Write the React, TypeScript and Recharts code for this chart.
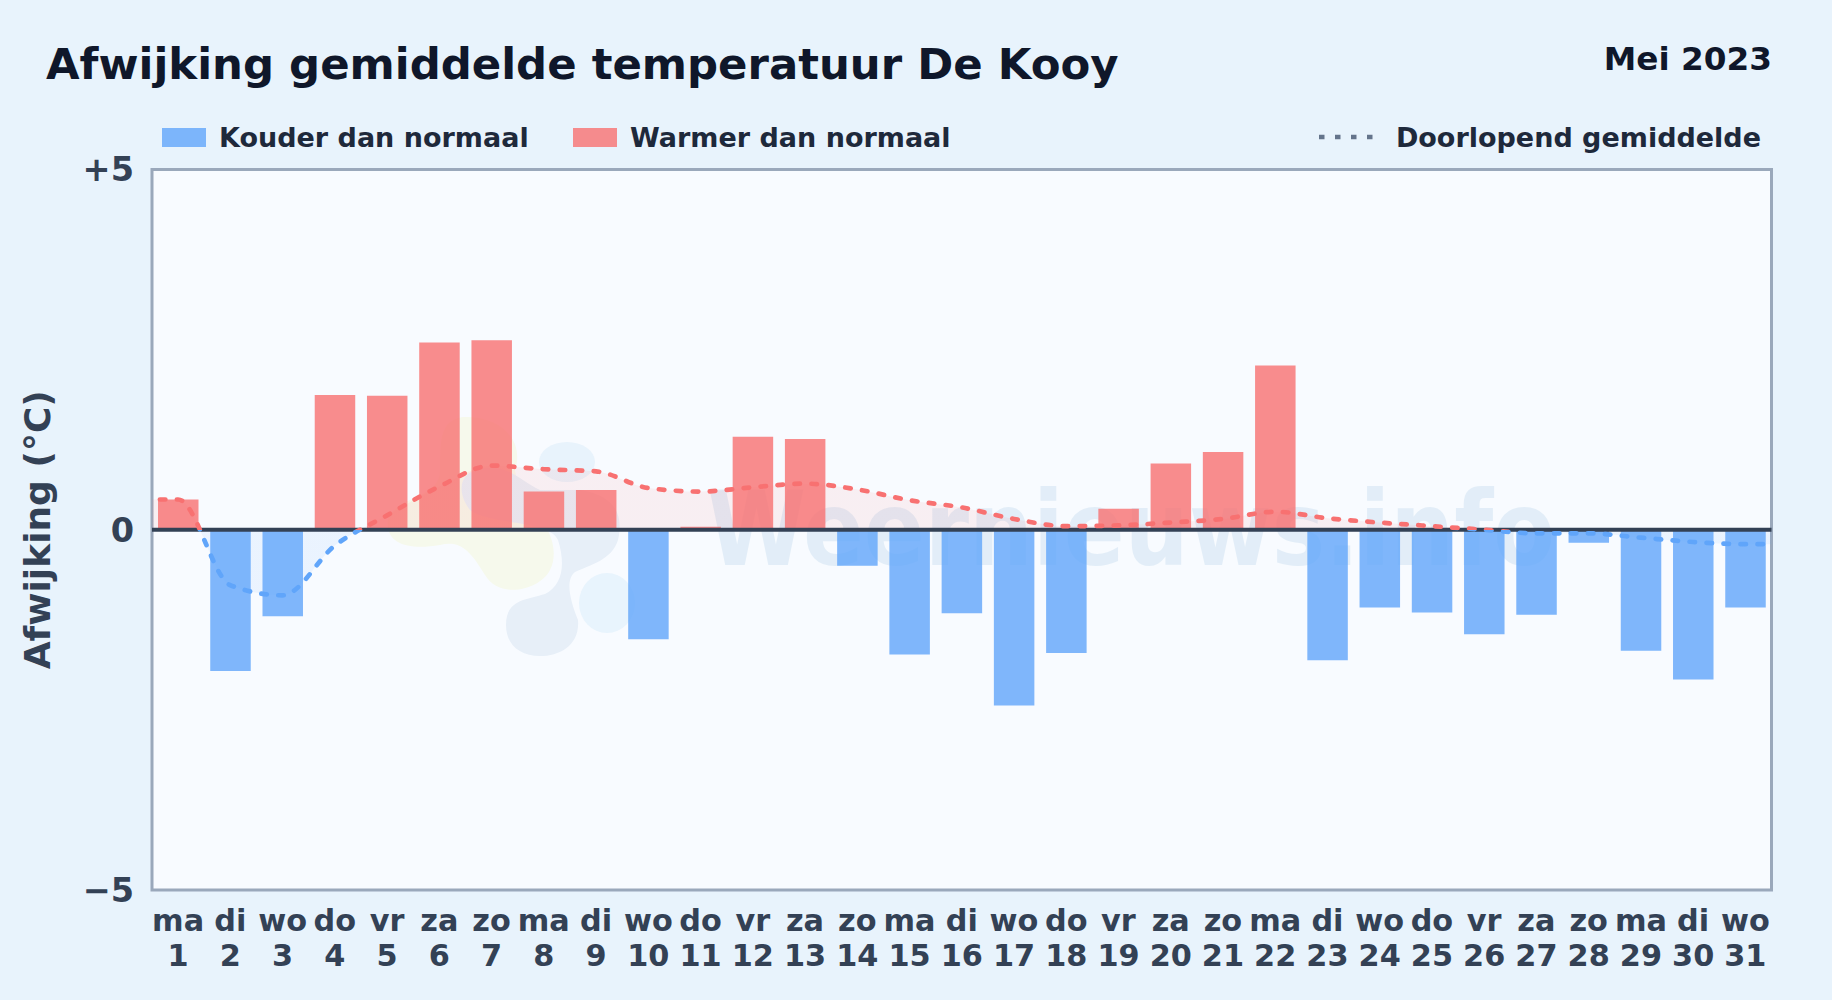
import React from 'react';
import {
  Area,
  Bar,
  Cell,
  ComposedChart,
  Line,
  ReferenceArea,
  ReferenceLine,
  XAxis,
  YAxis,
} from 'recharts';

const days = [1, 2, 3, 4, 5, 6, 7, 8, 9, 10, 11, 12, 13, 14, 15, 16, 17, 18, 19, 20, 21, 22, 23, 24, 25, 26, 27, 28, 29, 30, 31];
const weekdays = ['ma', 'di', 'wo', 'do', 'vr', 'za', 'zo', 'ma', 'di', 'wo', 'do', 'vr', 'za', 'zo', 'ma', 'di', 'wo', 'do', 'vr', 'za', 'zo', 'ma', 'di', 'wo', 'do', 'vr', 'za', 'zo', 'ma', 'di', 'wo'];
const deviation = [0.42, -1.96, -1.2, 1.87, 1.86, 2.6, 2.63, 0.53, 0.55, -1.52, 0.04, 1.29, 1.26, -0.5, -1.73, -1.16, -2.44, -1.71, 0.29, 0.92, 1.08, 2.28, -1.81, -1.08, -1.15, -1.45, -1.18, -0.18, -1.68, -2.08, -1.08];
const runningMean = [0.42, -0.77, -0.91, -0.22, 0.2, 0.6, 0.89, 0.84, 0.81, 0.58, 0.53, 0.59, 0.64, 0.56, 0.41, 0.31, 0.15, 0.05, 0.06, 0.1, 0.15, 0.25, 0.16, 0.1, 0.05, 0, -0.05, -0.05, -0.11, -0.17, -0.2];
const yTicks = [-5, 0, 5];

const FONT = '"DejaVu Sans", sans-serif';
const TEXT = '#334155';
const COLD = '#60a5fa';
const WARM = '#f87171';

// the running mean runs on to both plot edges, the extra rows fall outside the domain and get clipped
const data = [
  { x: 0, mean: runningMean[0] },
  ...days.map((d, i) => ({ x: d, value: deviation[i], mean: runningMean[i] })),
  { x: 32, mean: runningMean[30] },
];

const formatY = (v: number) => (v > 0 ? `+${v}` : v < 0 ? `\u2212${-v}` : '0');

function DayTick({ x, y, payload }: any) {
  return (
    <text x={x} y={y} textAnchor="middle" fontFamily={FONT} fontWeight={700} fontSize={30.3} fill={TEXT}>
      <tspan x={x} dy={33}>{weekdays[payload.value - 1]}</tspan>
      <tspan x={x} dy={35}>{payload.value}</tspan>
    </text>
  );
}

function LegendItem({ left, color, label }: { left: number; color: string; label: string }) {
  return (
    <div style={{ position: 'absolute', left, top: 120, height: 34, display: 'flex', alignItems: 'center' }}>
      <div style={{ width: 44, height: 19, background: color, opacity: 0.8, marginRight: 13 }} />
      <span>{label}</span>
    </div>
  );
}

export default function App() {
  return (
    <div style={{ position: 'absolute', left: 0, top: 0, width: 1832, height: 1000, background: '#e8f3fc', fontFamily: FONT, overflow: 'hidden' }}>
      <div style={{ position: 'absolute', left: 152, top: 169, width: 1620, height: 721, background: '#f8fbff' }} />
      {/* watermark */}
      <svg width={1832} height={1000} style={{ position: 'absolute', left: 0, top: 0 }}>
        <path
          d="M463 417 C500 415 525 440 515 470 L520 500 C550 520 560 550 550 570 C540 590 500 600 485 575 C470 550 460 540 440 545 C410 550 385 545 388 520 C395 495 440 500 440 470 C440 440 440 420 463 417 Z"
          fill="#f6f9ec"
        />
        <ellipse cx={567} cy={462} rx={28} ry={20} fill="#e8f3fc" />
        <path
          d="M506 625 C506 600 525 600 545 594 C562 586 566 565 558 540 C550 520 490 525 470 510 C455 490 460 470 485 468 C510 466 520 480 540 490 L580 490 C610 495 625 510 618 540 C612 560 590 565 575 572 C565 580 570 600 578 620 C580 645 560 656 540 656 C520 656 506 645 506 625 Z"
          fill="#e7eff8"
        />
        <ellipse cx={607} cy={603} rx={28} ry={30} fill="#e8f4fd" />
        <text
          x={707}
          y={565}
          fontFamily={FONT}
          fontWeight={700}
          fontSize={103}
          textLength={848}
          lengthAdjust="spacingAndGlyphs"
          fill="#2b7fbf"
          opacity={0.1}
        >
          Weernieuws.info
        </text>
      </svg>

      <div style={{ position: 'absolute', left: 46, top: 39, fontSize: 43.4, fontWeight: 700, color: '#0f172a', whiteSpace: 'nowrap' }}>
        Afwijking gemiddelde temperatuur De Kooy
      </div>
      <div style={{ position: 'absolute', right: 60, top: 40, fontSize: 32.7, fontWeight: 700, color: '#0f172a', whiteSpace: 'nowrap' }}>
        Mei 2023
      </div>

      <div style={{ fontSize: 27, fontWeight: 700, color: '#1e293b', whiteSpace: 'nowrap' }}>
        <LegendItem left={162} color={COLD} label="Kouder dan normaal" />
        <LegendItem left={573} color={WARM} label="Warmer dan normaal" />
        <div style={{ position: 'absolute', right: 71, top: 120, height: 34, display: 'flex', alignItems: 'center' }}>
          <svg width={58} height={8} style={{ marginRight: 21 }}>
            <line x1={2} y1={4} x2={58} y2={4} stroke="#64748b" strokeWidth={4.5} strokeDasharray="5.5 10.5" />
          </svg>
          <span>Doorlopend gemiddelde</span>
        </div>
      </div>

      <div style={{ position: 'absolute', left: 0, top: 0 }}>
        <ComposedChart
          width={1832}
          height={1000}
          data={data}
          margin={{ top: 169.5, right: 60.5, bottom: 0, left: 0 }}
        >
          <defs>
            <linearGradient id="meanStroke" gradientUnits="userSpaceOnUse" x1="0" y1="169.5" x2="0" y2="890">
              <stop offset="50%" stopColor={WARM} />
              <stop offset="50%" stopColor={COLD} />
            </linearGradient>
            <linearGradient id="meanFill" gradientUnits="userSpaceOnUse" x1="0" y1="169.5" x2="0" y2="890">
              <stop offset="50%" stopColor={WARM} stopOpacity={0.15} />
              <stop offset="50%" stopColor={COLD} stopOpacity={0.15} />
            </linearGradient>
          </defs>
          <XAxis
            dataKey="x"
            type="number"
            domain={[0.5, 31.5]}
            allowDataOverflow
            ticks={days}
            interval={0}
            height={110}
            axisLine={false}
            tickLine={false}
            tick={<DayTick />}
          />
          <YAxis
            domain={[-5, 5]}
            ticks={yTicks}
            width={152}
            axisLine={false}
            tickLine={false}
            tickFormatter={formatY}
            tickMargin={12}
            tick={{ fontFamily: FONT, fontWeight: 700, fontSize: 33.5, fill: TEXT }}
            label={{
              value: 'Afwijking (\u00b0C)',
              angle: -90,
              position: 'insideLeft',
              offset: 37,
              style: { textAnchor: 'middle', fontFamily: FONT, fontWeight: 700, fontSize: 36, fill: TEXT },
            }}
          />
          <ReferenceArea x1={0.5} x2={31.5} y1={-5} y2={5} fill="none" stroke="#9aa8bb" strokeWidth={3} />
          <Area
            dataKey="mean"
            type="monotone"
            baseValue={0}
            stroke="none"
            fill="url(#meanFill)"
            dot={false}
            activeDot={false}
            isAnimationActive={false}
          />
          <Bar dataKey="value" barSize={40.5} isAnimationActive={false}>
            {data.map((row, i) => (
              <Cell key={i} fill={(row.value ?? 0) < 0 ? COLD : WARM} fillOpacity={0.8} />
            ))}
          </Bar>
          <ReferenceLine y={0} stroke="#334155" strokeWidth={4} />
          <Line
            dataKey="mean"
            type="monotone"
            stroke="url(#meanStroke)"
            strokeWidth={4.7}
            strokeDasharray="5.5 11.5"
            strokeLinecap="round"
            dot={false}
            activeDot={false}
            isAnimationActive={false}
          />
        </ComposedChart>
      </div>
    </div>
  );
}
